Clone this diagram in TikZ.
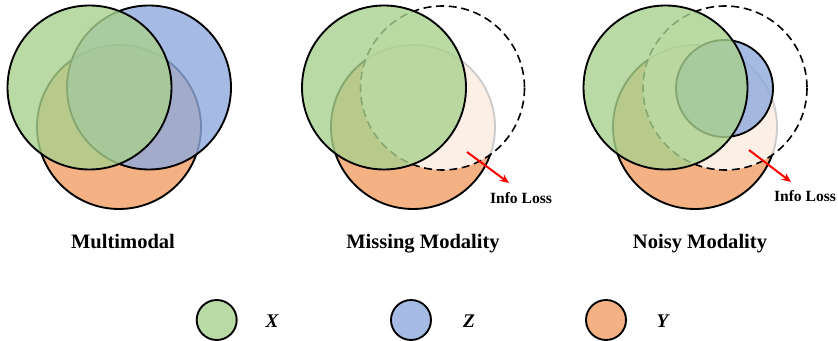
\documentclass[tikz,border=0pt]{standalone}
\usepackage{fontspec}
\setmainfont{Liberation Serif}
\usepackage{tikz}
\usetikzlibrary{arrows.meta}

\definecolor{xgreen}{HTML}{A9D18E}
\definecolor{zblue}{HTML}{8FAADC}
\definecolor{yorange}{HTML}{F4B183}

\tikzset{
	ycirc/.style={draw=black, line width=1.4pt, fill=yorange},
	zcirc/.style={draw=black, line width=1.4pt, fill=zblue, fill opacity=0.8},
	xcirc/.style={draw=black, line width=1.4pt, fill=xgreen, fill opacity=0.8},
	lostcirc/.style={draw=black, line width=1.2pt, dash pattern=on 6pt off 3.5pt, fill=white, fill opacity=0.8},
	lossarrow/.style={draw=red, line width=1.5pt, -{Stealth[length=7pt,width=6pt]}},
	caption/.style={anchor=base, font=\bfseries\fontsize{15.4}{18}\selectfont},
	losstext/.style={anchor=base, font=\bfseries\fontsize{11.7}{14}\selectfont},
	legendlabel/.style={anchor=base, font=\bfseries\itshape\fontsize{14.5}{17}\selectfont}
}

\begin{document}
\begin{tikzpicture}[x=0.75pt,y=-0.75pt]
	\useasboundingbox (0,0) rectangle (838,341);
	% multimodal
	\draw[ycirc] (119,127) circle (82);
	\draw[zcirc] (149,87.5) circle (82);
	\draw[xcirc] (89.5,87.5) circle (82);
	% missing modality
	\draw[ycirc] (413,127) circle (82);
	\draw[lostcirc] (442.5,88) circle (82);
	\draw[xcirc] (384,87.5) circle (82);
	% noisy modality
	\draw[ycirc] (695,127) circle (82);
	\draw[lostcirc] (725,88) circle (82);
	\draw[zcirc] (724.5,88.5) circle (48.5);
	\draw[xcirc] (665.5,87.5) circle (82);
	% info loss
	\coordinate (arrA1) at (467,152);
	\coordinate (arrA2) at (509,183);
	\coordinate (arrB1) at (749,150);
	\coordinate (arrB2) at (791,182);
	\draw[lossarrow] (arrA1) -- (arrA2);
	\draw[lossarrow] (arrB1) -- (arrB2);
	\node[losstext] (lossA) at (521,204) {Info Loss};
	\node[losstext] (lossB) at (805,201.5) {Info Loss};
	% captions
	\node[caption] (multi) at (123,249) {Multimodal};
	\node[caption] (missing) at (423,249) {Missing Modality};
	\node[caption] (noisy) at (700,249) {Noisy Modality};
	% legend
	\draw[xcirc] (216.7,320) circle (20);
	\draw[zcirc] (411,320) circle (20);
	\draw[ycirc] (606,320) circle (20);
	\node[legendlabel] (labx) at (272,327.5) {X};
	\node[legendlabel] (labz) at (469,327.5) {Z};
	\node[legendlabel] (laby) at (662.5,327.5) {Y};
\end{tikzpicture}
\end{document}
